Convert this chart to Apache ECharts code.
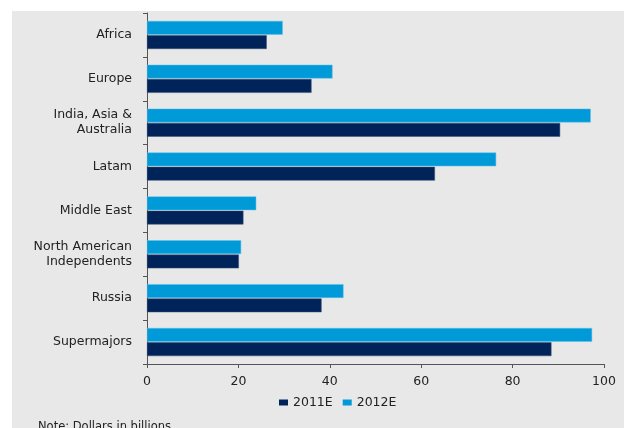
<!DOCTYPE html>
<html>
<head>
<meta charset="utf-8">
<script src="https://cdn.jsdelivr.net/npm/echarts@6/dist/echarts.min.js"></script>
<style>
html,body{margin:0;padding:0;background:#fff;}
#chart{width:624px;height:428px;}
</style>
</head>
<body>
<div id="chart"></div>
<script>
var categories = ['Africa', 'Europe', 'India, Asia &\nAustralia', 'Latam', 'Middle East', 'North American\nIndependents', 'Russia', 'Supermajors'];
var values2011E = [26.2, 36.0, 90.4, 63.0, 21.1, 20.1, 38.2, 88.5];
var values2012E = [29.7, 40.6, 97.1, 76.4, 23.9, 20.6, 43.0, 97.4];
var xTicks = [0, 20, 40, 60, 80, 100];
var noteText = 'Note: Dollars in billions';

var font = 'DejaVu Sans, sans-serif';
var fs = 12.5;
var chart = echarts.init(document.getElementById('chart'), null, {renderer: 'canvas'});
chart.setOption({
  backgroundColor: '#ffffff',
  animation: false,
  graphic: [
    {type: 'rect', shape: {x: 12, y: 11, width: 612, height: 417}, style: {fill: '#e8e8e8'}, z: -10, silent: true},
    {type: 'text', left: 38, top: 421, style: {text: noteText, font: '11.5px ' + font, fill: '#222'}}
  ],
  grid: {left: 147, right: 20, top: 13, bottom: 64, containLabel: false},
  legend: {
    data: ['2011E', '2012E'],
    top: 391, left: 274,
    itemWidth: 9, itemHeight: 6, itemGap: 10,
    icon: 'rect',
    itemStyle: {borderWidth: 0},
    textStyle: {fontSize: fs, color: '#222', fontFamily: font}
  },
  xAxis: {
    type: 'value', min: xTicks[0], max: xTicks[xTicks.length - 1], interval: 20,
    splitLine: {show: false},
    axisLine: {show: true, lineStyle: {color: '#555', width: 1}},
    axisTick: {show: true, length: 4, lineStyle: {color: '#555'}},
    axisLabel: {margin: 11, fontSize: fs, color: '#222', fontFamily: font}
  },
  yAxis: {
    type: 'category', data: categories, inverse: true,
    axisLine: {show: true, lineStyle: {color: '#555', width: 1}},
    axisTick: {show: true, length: 4, lineStyle: {color: '#555'}},
    axisLabel: {margin: 15, fontSize: fs, color: '#222', fontFamily: font, lineHeight: 15, align: 'right'}
  },
  series: [
    {name: '2012E', type: 'bar', data: values2012E, barCategoryGap: '36%', barGap: '4%',
     itemStyle: {color: '#009ad8', borderColor: '#5ec0ea', borderWidth: 0.5}},
    {name: '2011E', type: 'bar', data: values2011E, barCategoryGap: '36%', barGap: '4%',
     itemStyle: {color: '#00245a', borderColor: '#3a5070', borderWidth: 0.5}}
  ]
});
</script>
</body>
</html>
